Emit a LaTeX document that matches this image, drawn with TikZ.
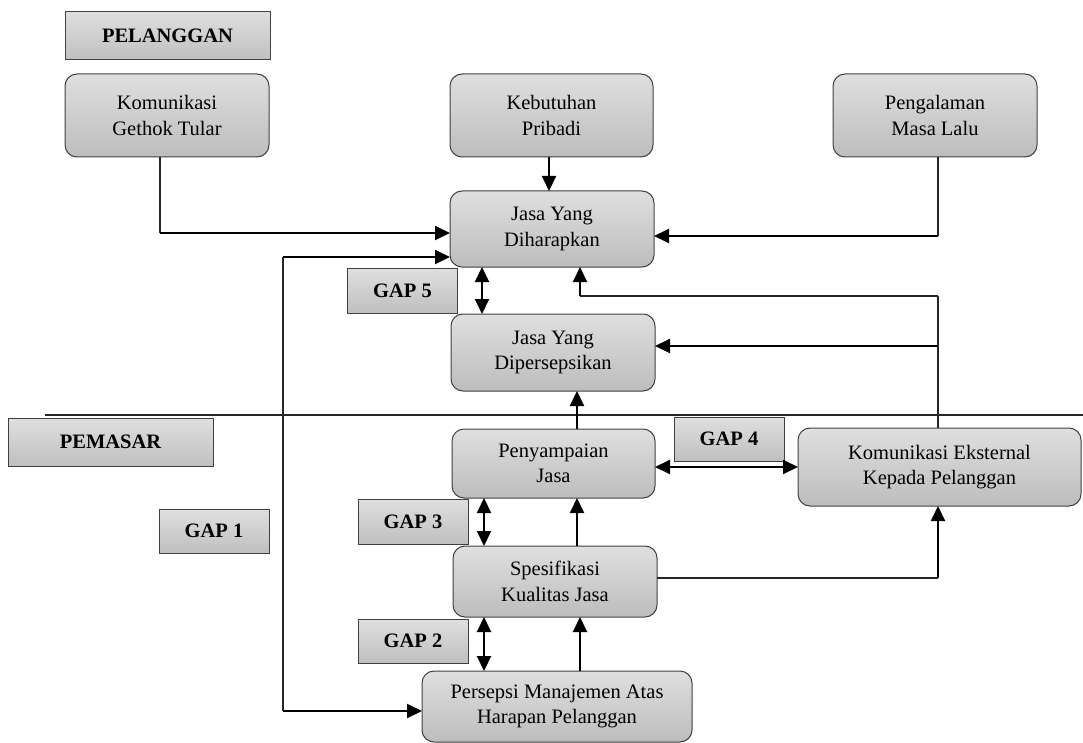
\documentclass[tikz,border=0pt]{standalone}
\usepackage{fontspec}
\setmainfont{Liberation Serif}
\usetikzlibrary{arrows.meta}
\tikzset{
  box/.style={draw=black!75, line width=1pt, rounded corners=12pt,
    top color=gray!25, bottom color=gray!52, inner sep=0pt, outer sep=0pt,
    align=center, font=\fontsize{20.5}{25.5}\selectfont},
  lab/.style={draw=black!75, line width=1pt,
    top color=gray!25, bottom color=gray!50, inner sep=0pt, outer sep=0pt,
    minimum width=110pt, minimum height=44pt,
    font=\bfseries\fontsize{20.5}{24}\selectfont},
  head/.style={lab, minimum width=205pt, minimum height=48pt},
  arr/.style={line width=2pt, draw=black, -{Triangle[length=15pt,width=14pt]}},
  darr/.style={line width=2pt, draw=black, {Triangle[length=15pt,width=14pt]}-{Triangle[length=15pt,width=14pt]}},
  thinline/.style={line width=1.2pt, draw=black!85},
}
\begin{document}
\begin{tikzpicture}[x=1pt,y=-1pt]
\useasboundingbox (0,0) rectangle (1083,743);
% header labels
\node[head] (pel) at (167.5,36) {PELANGGAN};
\node[head] (pemasar) at (110.5,442) {PEMASAR};
% boxes
\node[box, minimum width=204pt, minimum height=83pt] (kgt) at (167,115.5) {Komunikasi\\Gethok Tular};
\node[box, minimum width=203pt, minimum height=83pt] (keb) at (551.5,115.5) {Kebutuhan\\Pribadi};
\node[box, minimum width=204pt, minimum height=83pt] (pen) at (935,115.5) {Pengalaman\\Masa Lalu};
\node[box, minimum width=204pt, minimum height=76pt] (jyd) at (552,229) {Jasa Yang\\Diharapkan};
\node[box, minimum width=204pt, minimum height=77pt] (jyp) at (553,352.5) {Jasa Yang\\Dipersepsikan};
\node[box, minimum width=203pt, minimum height=69pt] (pj) at (553.5,463.5) {Penyampaian\\Jasa};
\node[box, minimum width=283pt, minimum height=78pt] (ke) at (939.5,467) {Komunikasi Eksternal\\Kepada Pelanggan};
\node[box, minimum width=204pt, minimum height=71pt] (skj) at (555,581.5) {Spesifikasi\\Kualitas Jasa};
\node[box, minimum width=270pt, minimum height=71pt] (pm) at (557,706.5) {Persepsi Manajemen Atas\\Harapan Pelanggan};
% gap labels
\node[lab] (gap1) at (214,531) {GAP 1};
\node[lab, minimum height=45pt] (gap5) at (402.5,290.5) {GAP 5};
\node[lab] (gap4) at (729,439) {GAP 4};
\node[lab, minimum height=45pt] (gap3) at (413,521.5) {GAP 3};
\node[lab] (gap2) at (413,641) {GAP 2};
% separator
\coordinate (sepL) at (45,415);
\coordinate (sepR) at (1083,415);
\draw[thinline] (sepL) -- (sepR);
% connectors
\coordinate (k1) at (160,233);
\draw[thinline] ([xshift=-7pt]kgt.south) -- (k1);
\draw[arr] (k1) -- ([yshift=-4pt]jyd.west);
\draw[arr] ([xshift=-2.5pt]keb.south) -- ([xshift=-2.5pt]keb.south |- jyd.north);
\coordinate (p1) at (938,236);
\draw[thinline] ([xshift=3pt]pen.south) -- (p1);
\draw[arr] (p1) -- ([yshift=-7pt]jyd.east);
\coordinate (g1t) at (283,257);
\coordinate (g1b) at (283,711);
\draw[thinline] (g1t) -- (g1b);
\draw[arr] (g1t) -- ([yshift=-28pt]jyd.west);
\draw[arr] (g1b) -- ([yshift=-4.5pt]pm.west);
% right feedback lines
\coordinate (r1) at (938,296);
\coordinate (r2) at (938,346);
\draw[thinline] ([xshift=-1.5pt]ke.north) -- (r1);
\draw[thinline] (r1) -- ([xshift=28pt]jyd.south |- r1);
\draw[arr] ([xshift=28pt]jyd.south |- r1) -- ([xshift=28pt]jyd.south);
\draw[arr] (r2) -- ([yshift=6.5pt]jyp.east);
% gaps
\draw[darr] ([xshift=-70pt]jyd.south) -- ([xshift=-70pt]jyd.south |- jyp.north);
\draw[arr] ([xshift=24pt]jyp.south |- pj.north) -- ([xshift=24pt]jyp.south);
\draw[darr] ([yshift=-3.5pt]pj.east) -- ([yshift=-3.5pt]pj.east -| ke.west);
\draw[darr] ([xshift=-69.5pt]pj.south) -- ([xshift=-69.5pt]pj.south |- skj.north);
\draw[arr] ([xshift=23.5pt]pj.south |- skj.north) -- ([xshift=23.5pt]pj.south);
\coordinate (r3) at (938,578);
\draw[thinline] ([yshift=3.5pt]skj.east) -- (r3);
\draw[arr] (r3) -- (r3 |- ke.south);
\draw[darr] ([xshift=-71pt]skj.south) -- ([xshift=-71pt]skj.south |- pm.north);
\draw[arr] ([xshift=25pt]skj.south |- pm.north) -- ([xshift=25pt]skj.south);
\end{tikzpicture}
\end{document}
